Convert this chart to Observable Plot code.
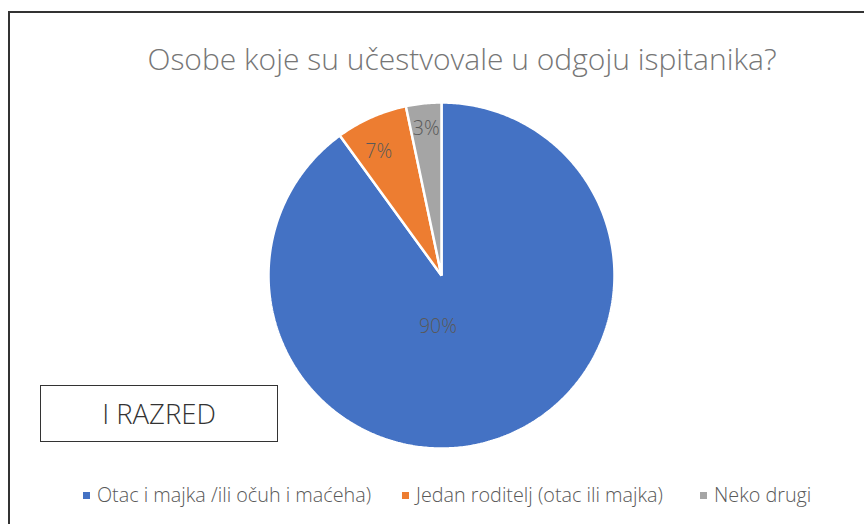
<!DOCTYPE html>
<html>
<head>
<meta charset="utf-8">
<script src="https://cdn.jsdelivr.net/npm/d3@7"></script>
<script src="https://cdn.jsdelivr.net/npm/@observablehq/plot@0.6"></script>
<style>
  html, body { margin: 0; padding: 0; background: #fff; }
  #wrap { position: relative; width: 864px; height: 524px; overflow: hidden; font-family: "Open Sans", "Noto Sans", sans-serif; }
  #frame { position: absolute; left: 8px; top: 11px; width: 900px; height: 600px; border-left: 2px solid #333; border-top: 2px solid #333; box-sizing: border-box; }
  #title { position: absolute; left: 0; width: 924px; top: 39px; text-align: center; font-size: 30px; font-weight: 300; color: #767676; white-space: nowrap; line-height: 40px; }
  #chart { position: absolute; left: 0; top: 0; }
  #box { position: absolute; left: 40px; top: 385px; width: 238px; height: 57px; border: 1.5px solid #333; box-sizing: border-box; display: flex; align-items: center; justify-content: center; font-size: 27.5px; font-weight: 300; color: #333; background: #fff; }
  .leg { position: absolute; top: 482px; display: flex; align-items: center; font-size: 19.8px; font-weight: 300; color: #595959; white-space: nowrap; line-height: 26px; }
  .sw { width: 7px; height: 7px; margin-right: 7px; }
</style>
</head>
<body>
<div id="wrap">
  <div id="frame"></div>
  <div id="chart"></div>
  <div id="title"></div>
  <div id="box"></div>
  <div id="legend"></div>
</div>
<script>
const title = "Osobe koje su učestvovale u odgoju ispitanika?";
const boxLabel = "I RAZRED";
const categories = ["Otac i majka /ili očuh i maćeha)", "Jedan roditelj (otac ili majka)", "Neko drugi"];
const values = [90, 6.7, 3.3];
const percentLabels = ["90%", "7%", "3%"];
const colors = ["#4472C4", "#ED7D31", "#A5A5A5"];
// label placement (layout): radial fraction and angle shift (degrees)
const labelRadius = [0.296, 0.8, 0.85];
const labelShift = [22, -3, 0];
const legendLeft = [83, 402, 700];

document.getElementById("title").textContent = title;
document.getElementById("box").textContent = boxLabel;

const total = d3.sum(values);
let acc = 0;
const slices = categories.map((c, i) => {
  const a0 = acc / total * 2 * Math.PI;
  acc += values[i];
  const a1 = acc / total * 2 * Math.PI;
  return {cat: c, a0, a1, i};
});
const pts = [];
for (const s of slices) {
  pts.push({cat: s.cat, x: 0, y: 0});
  const n = Math.max(4, Math.ceil((s.a1 - s.a0) / 0.01));
  for (let k = 0; k <= n; k++) {
    const a = s.a0 + (s.a1 - s.a0) * k / n;
    pts.push({cat: s.cat, x: Math.sin(a), y: Math.cos(a)});
  }
}
const labels = slices.map(s => {
  const a = (s.a0 + s.a1) / 2 + labelShift[s.i] * Math.PI / 180;
  const r = labelRadius[s.i];
  return {text: percentLabels[s.i], x: r * Math.sin(a), y: r * Math.cos(a)};
});

const plot = Plot.plot({
  width: 864,
  height: 524,
  margin: 0,
  x: {domain: [-1, 1], range: [268, 614], axis: null},
  y: {domain: [-1, 1], range: [448, 102], axis: null},
  color: {domain: categories, range: colors},
  style: {background: "transparent", overflow: "visible"},
  marks: [
    Plot.line(pts, {x: "x", y: "y", z: "cat", fill: "cat", stroke: "white", strokeWidth: 2.5, strokeLinejoin: "miter", curve: "linear-closed"}),
    Plot.text(labels, {x: "x", y: "y", text: "text", fill: "#595959", fontSize: 19.5, fontWeight: 300, fontFamily: "Open Sans, sans-serif"})
  ]
});
document.getElementById("chart").appendChild(plot);

const leg = document.getElementById("legend");
categories.forEach((c, i) => {
  const d = document.createElement("div");
  d.className = "leg";
  d.style.left = legendLeft[i] + "px";
  const sw = document.createElement("span");
  sw.className = "sw";
  sw.style.background = colors[i];
  const t = document.createElement("span");
  t.textContent = c;
  d.appendChild(sw); d.appendChild(t);
  leg.appendChild(d);
});
</script>
</body>
</html>
